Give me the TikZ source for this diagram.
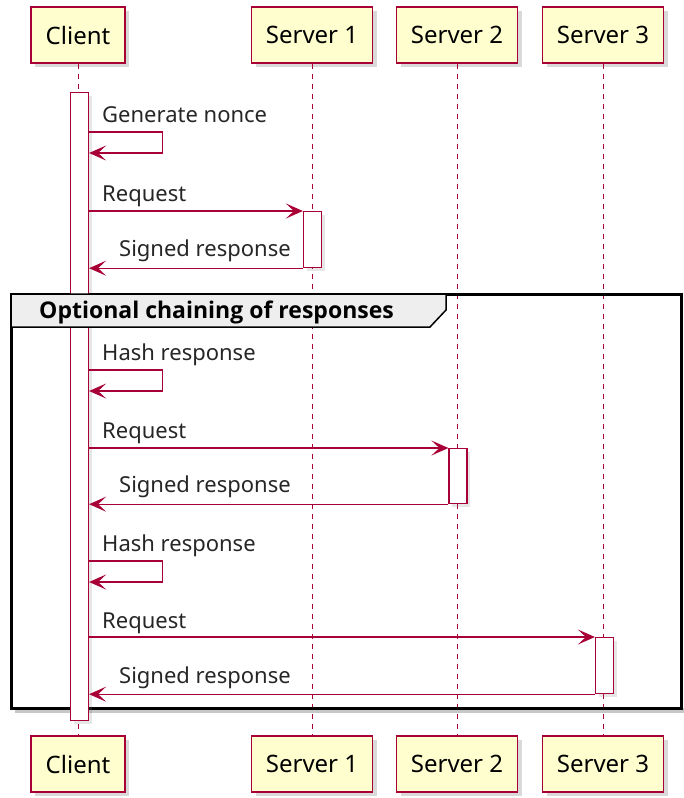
\documentclass[tikz,border=0pt]{standalone}
\usepackage{fontspec}
\setmainfont{Noto Sans}
\newfontfamily\hdrfont{Open Sans}
\usetikzlibrary{arrows.meta,shadows}
\definecolor{pu}{HTML}{A80036}
\definecolor{pfill}{HTML}{FEFECE}
\definecolor{hdr}{HTML}{EEEEEE}
\begin{document}
\begin{tikzpicture}[x=1pt,y=-1pt,
  part/.style={draw=pu, line width=1.6pt, fill=pfill, minimum height=56pt, inner sep=0pt,
    font=\fontsize{24}{28}\selectfont,
    drop shadow={shadow xshift=4pt, shadow yshift=-4pt, opacity=0.3}},
  act/.style={draw=pu, line width=1.2pt, fill=white, minimum width=18pt, inner sep=0pt,
    drop shadow={shadow xshift=3pt, shadow yshift=-3pt, opacity=0.2}},
  life/.style={draw=pu, line width=1pt, dash pattern=on 5pt off 5pt},
  msg/.style={draw=pu, line width=1.2pt, -{Stealth[length=17pt, width=15pt, inset=8pt]}},
  lbl/.style={anchor=base west, inner sep=0pt, font=\fontsize{22}{26}\selectfont, text=black!85},
  hdrtxt/.style={anchor=base west, inner sep=0pt, font=\hdrfont\bfseries\fontsize{23}{27}\selectfont, text=black}
]
\useasboundingbox (0,0) rectangle (683,798);

% participants
\node[part, minimum width=94pt]  (hc)  at (78,35)  {Client};
\node[part, minimum width=121pt] (hs1) at (312,35) {Server 1};
\node[part, minimum width=121pt] (hs2) at (457,35) {Server 2};
\node[part, minimum width=121pt] (hs3) at (603,35) {Server 3};
\node[part, minimum width=94pt]  (fc)  at (78,764)  {Client};
\node[part, minimum width=121pt] (fs1) at (312,764) {Server 1};
\node[part, minimum width=121pt] (fs2) at (457,764) {Server 2};
\node[part, minimum width=121pt] (fs3) at (603,764) {Server 3};

% lifelines
\draw[life] (hc.south) -- (fc.north);
\draw[life] (hs1.south) -- (fs1.north);
\draw[life] (hs2.south) -- (fs2.north);
\draw[life] (hs3.south) -- (fs3.north);

% group frame
\fill[black!22] (15,708) rectangle (685,713);
\draw[line width=3pt] (11,294) rectangle (681,708);

% activations
\node[act, minimum height=628pt, anchor=north] (ac)  at (79.5,92) {};
\node[act, minimum height=56pt, anchor=north]  (as1) at (312.5,211) {};
\node[act, minimum height=55pt, anchor=north]  (as2) at (458,448) {};
\node[act, minimum height=56pt, anchor=north]  (as3) at (604.5,637) {};

% group header
\draw[fill=hdr, line width=1.5pt] (11,294) -- (446,294) -- (446,310) -- (430,327) -- (11,327) -- cycle;
\node[hdrtxt] (gt) at (39,318) {Optional chaining of responses};

% self message 1
\coordinate (g1) at (ac.east |- 0,132);
\draw[msg] (g1) -- ++(73,0) -- ++(0,21) -- ++(-73,0);
\node[lbl] (tg1) at (102,122) {Generate nonce};

% request 1
\draw[msg] (as1.north west -| ac.east) -- (as1.north west);
\node[lbl] (tr1) at (102,201) {Request};
\draw[msg] (as1.south west) -- (as1.south west -| ac.east);
\node[lbl] (ts1) at (119,256) {Signed response};

% hash 1
\coordinate (g2) at (ac.east |- 0,370);
\draw[msg] (g2) -- ++(73,0) -- ++(0,21) -- ++(-73,0);
\node[lbl] (th1) at (102,360) {Hash response};

% request 2
\draw[msg] (as2.north west -| ac.east) -- (as2.north west);
\node[lbl] (tr2) at (102,438) {Request};
\draw[msg] (as2.south west) -- (as2.south west -| ac.east);
\node[lbl] (ts2) at (119,492) {Signed response};

% hash 2
\coordinate (g3) at (ac.east |- 0,561);
\draw[msg] (g3) -- ++(73,0) -- ++(0,21) -- ++(-73,0);
\node[lbl] (th2) at (102,551) {Hash response};

% request 3
\draw[msg] (as3.north west -| ac.east) -- (as3.north west);
\node[lbl] (tr3) at (102,628) {Request};
\draw[msg] (as3.south west) -- (as3.south west -| ac.east);
\node[lbl] (ts3) at (119,683) {Signed response};
\end{tikzpicture}
\end{document}
